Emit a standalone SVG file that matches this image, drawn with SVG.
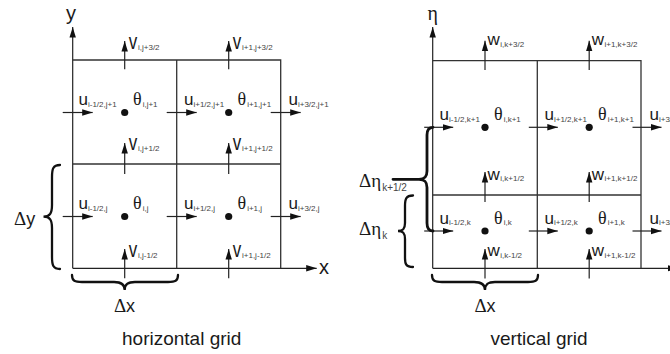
<svg xmlns="http://www.w3.org/2000/svg" width="670" height="354" viewBox="0 0 670 354">
<style>
.ln{stroke:#333;stroke-width:1.3;fill:none}
.ar{stroke:#222;stroke-width:1.2;fill:none;marker-end:url(#ah)}
.br{stroke:#111;stroke-width:2.3;fill:none;stroke-linecap:round}
.m{font-family:"Liberation Sans",Arial,sans-serif;font-size:17px;fill:#1a1a1a}
.g{font-family:"Liberation Serif","Times New Roman",serif;font-size:18px;fill:#1a1a1a}
.s{font-family:"Liberation Sans",Arial,sans-serif;font-size:8px;fill:#444}
.t{font-family:"Liberation Sans",Arial,sans-serif;font-size:18px;fill:#1a1a1a}
.dot{fill:#111}
</style>
<defs>
<marker id="ah" markerUnits="userSpaceOnUse" markerWidth="11" markerHeight="8" viewBox="0 0 11 8" refX="10.5" refY="4" orient="auto">
<path d="M0,0.8 L10.5,4 L0,7.2 z" fill="#111"/>
</marker>
</defs>

<g id="horizontal-grid">
<g id="h-axes">
<path class="ar" d="M72.7,268.3 V27"/>
<path class="ar" d="M72.7,268.3 H316.7"/>
<text class="t" x="66" y="20" style="font-size:20px">y</text>
<text class="t" x="319" y="274" style="font-size:20px">x</text>
</g>
<g id="h-cells">
<path class="ln" d="M72.7,60 H280.7 V268.3"/>
<path class="ln" d="M176.7,60 V268.3"/>
<path class="ln" d="M72.7,164 H280.7"/>
</g>
<g id="h-theta">
<circle class="dot" cx="124.7" cy="112.5" r="3.6"/>
<circle class="dot" cx="228.7" cy="112.5" r="3.6"/>
<circle class="dot" cx="124.7" cy="216.5" r="3.6"/>
<circle class="dot" cx="228.7" cy="216.5" r="3.6"/>
<text class="g" x="133" y="105">θ<tspan class="s" dx="1" dy="1.5">i,j+1</tspan></text>
<text class="g" x="237.5" y="105">θ<tspan class="s" dx="1" dy="1.5">i+1,j+1</tspan></text>
<text class="g" x="133" y="209">θ<tspan class="s" dx="1" dy="1.5">i,j</tspan></text>
<text class="g" x="237.5" y="209">θ<tspan class="s" dx="1" dy="1.5">i+1,j</tspan></text>
</g>
<g id="h-u">
<path class="ar" d="M62.7,112.5 H92.7"/>
<path class="ar" d="M166.7,112.5 H196.7"/>
<path class="ar" d="M270.7,112.5 H300.7"/>
<path class="ar" d="M62.7,216.5 H92.7"/>
<path class="ar" d="M166.7,216.5 H196.7"/>
<path class="ar" d="M270.7,216.5 H300.7"/>
<text class="m" x="78.5" y="105">u<tspan class="s" dy="1.5">i-1/2,j+1</tspan></text>
<text class="m" x="184" y="105">u<tspan class="s" dy="1.5">i+1/2,j+1</tspan></text>
<text class="m" x="288.5" y="105">u<tspan class="s" dy="1.5">i+3/2,j+1</tspan></text>
<text class="m" x="78.5" y="209">u<tspan class="s" dy="1.5">i-1/2,j</tspan></text>
<text class="m" x="184" y="209">u<tspan class="s" dy="1.5">i+1/2,j</tspan></text>
<text class="m" x="288.5" y="209">u<tspan class="s" dy="1.5">i+3/2,j</tspan></text>
</g>
<g id="h-v">
<path class="ar" d="M124.7,69.3 V41"/>
<path class="ar" d="M228.7,69.3 V41"/>
<path class="ar" d="M124.7,174 V143"/>
<path class="ar" d="M228.7,174 V143"/>
<path class="ar" d="M124.7,278.3 V249"/>
<path class="ar" d="M228.7,278.3 V249"/>
<text class="m" transform="translate(128.8,48.5) scale(1,1.3)">v</text>
<text class="s" x="138" y="49.5">i,j+3/2</text>
<text class="m" transform="translate(232.8,48.5) scale(1,1.3)">v</text>
<text class="s" x="242" y="49.5">i+1,j+3/2</text>
<text class="m" transform="translate(128.8,150) scale(1,1.3)">v</text>
<text class="s" x="138" y="151">i,j+1/2</text>
<text class="m" transform="translate(232.8,150) scale(1,1.3)">v</text>
<text class="s" x="242" y="151">i+1,j+1/2</text>
<text class="m" transform="translate(128.8,256.5) scale(1,1.3)">v</text>
<text class="s" x="138" y="257.5">i,j-1/2</text>
<text class="m" transform="translate(232.8,256.5) scale(1,1.3)">v</text>
<text class="s" x="242" y="257.5">i+1,j-1/2</text>
</g>
<g id="h-dy">
<path class="br" d="M60,165 C53,165 52,169 52,177 L52,205 C52,213 50,216.7 43.5,216.7 C50,216.7 52,220 52,228 L52,257 C52,265 53,269 60,269"/>
<text class="t" x="14" y="225"><tspan class="g" style="font-size:19px">Δ</tspan>y</text>
</g>
<g id="h-dx">
<path class="br" d="M72,275 C72,281 75,282 82,282 L114,282 C121,282 124.7,284 124.7,290 C124.7,284 128,282 135,282 L168,282 C175,282 178,281 178,275"/>
<text class="t" x="124.5" y="312" text-anchor="middle"><tspan class="g" style="font-size:19px">Δ</tspan>x</text>
</g>
<text class="t" x="181.7" y="345" text-anchor="middle" style="font-size:19px">horizontal grid</text>
</g>

<g id="vertical-grid">
<g id="v-axes">
<path class="ar" d="M432.7,268.3 V27"/>
<path class="ar" d="M432.7,268.3 H678"/>
<text class="g" x="432.7" y="20" text-anchor="middle" style="font-size:20px">η</text>
</g>
<g id="v-cells">
<path class="ln" d="M432.7,60.7 H641 V268.3"/>
<path class="ln" d="M537.3,60.7 V268.3"/>
<path class="ln" d="M432.7,195 H641"/>
</g>
<g id="v-theta">
<circle class="dot" cx="485" cy="127.3" r="3.6"/>
<circle class="dot" cx="589.2" cy="127.3" r="3.6"/>
<circle class="dot" cx="485" cy="231" r="3.6"/>
<circle class="dot" cx="589.2" cy="231" r="3.6"/>
<text class="g" x="494" y="120">θ<tspan class="s" dx="1" dy="1.5">i,k+1</tspan></text>
<text class="g" x="598" y="120">θ<tspan class="s" dx="1" dy="1.5">i+1,k+1</tspan></text>
<text class="g" x="494" y="223.7">θ<tspan class="s" dx="1" dy="1.5">i,k</tspan></text>
<text class="g" x="598" y="223.7">θ<tspan class="s" dx="1" dy="1.5">i+1,k</tspan></text>
</g>
<g id="v-u">
<path class="ar" d="M424.2,127.3 H453.2"/>
<path class="ar" d="M528.8,127.3 H557.8"/>
<path class="ar" d="M632.5,127.3 H661.5"/>
<path class="ar" d="M424.2,231 H453.2"/>
<path class="ar" d="M528.8,231 H557.8"/>
<path class="ar" d="M632.5,231 H661.5"/>
<text class="m" x="439.5" y="120">u<tspan class="s" dy="1.5">i-1/2,k+1</tspan></text>
<text class="m" x="544.5" y="120">u<tspan class="s" dy="1.5">i+1/2,k+1</tspan></text>
<text class="m" x="649.5" y="120">u<tspan class="s" dy="1.5">i+3/2,k+1</tspan></text>
<text class="m" x="439.5" y="223.7">u<tspan class="s" dy="1.5">i-1/2,k</tspan></text>
<text class="m" x="544.5" y="223.7">u<tspan class="s" dy="1.5">i+1/2,k</tspan></text>
<text class="m" x="649.5" y="223.7">u<tspan class="s" dy="1.5">i+3/2,k</tspan></text>
</g>
<g id="v-w">
<path class="ar" d="M485,70 V40.7"/>
<path class="ar" d="M589.2,70 V40.7"/>
<path class="ar" d="M485,202 V172"/>
<path class="ar" d="M589.2,202 V172"/>
<path class="ar" d="M485,278.5 V249"/>
<path class="ar" d="M589.2,278.5 V249"/>
<text class="m" x="487.5" y="45">w<tspan class="s" dx="0.5" dy="1.5">i,k+3/2</tspan></text>
<text class="m" x="591.7" y="45">w<tspan class="s" dx="0.5" dy="1.5">i+1,k+3/2</tspan></text>
<text class="m" x="487.5" y="179.5">w<tspan class="s" dx="0.5" dy="1.5">i,k+1/2</tspan></text>
<text class="m" x="591.7" y="179.5">w<tspan class="s" dx="0.5" dy="1.5">i+1,k+1/2</tspan></text>
<text class="m" x="487.5" y="256">w<tspan class="s" dx="0.5" dy="1.5">i,k-1/2</tspan></text>
<text class="m" x="591.7" y="256">w<tspan class="s" dx="0.5" dy="1.5">i+1,k-1/2</tspan></text>
</g>
<g id="v-deta-half">
<path class="br" style="stroke-width:2.8" d="M433,127.3 C429,127.3 427,129.5 427,135 L427,171 C427,176.5 425,179.3 419,179.3 L393,179.3 M419,179.3 C425,179.3 427,182 427,187.5 L427,223 C427,228.5 429,231 433,231"/>
<text class="g" x="359" y="187" style="font-size:19px">Δη<tspan class="s" dx="1" dy="4" style="font-size:10px">k+1/2</tspan></text>
</g>
<g id="v-deta-k">
<path class="br" d="M413,195.5 C406,195.5 405,199 405,206 L405,223 C405,229 403,231 398,231 C403,231 405,233 405,239 L405,258 C405,264 406,267 413,267"/>
<text class="g" x="359" y="235" style="font-size:19px">Δη<tspan class="s" dx="1" dy="4" style="font-size:10px">k</tspan></text>
</g>
<g id="v-dx">
<path class="br" d="M432,275 C432,281 435,282 442,282 L474,282 C481,282 485,284 485,290 C485,284 488,282 495,282 L528,282 C535,282 538,281 538,275"/>
<text class="t" x="485" y="312" text-anchor="middle"><tspan class="g" style="font-size:19px">Δ</tspan>x</text>
</g>
<text class="t" x="539" y="345" text-anchor="middle" style="font-size:19px">vertical grid</text>
</g>
</svg>
